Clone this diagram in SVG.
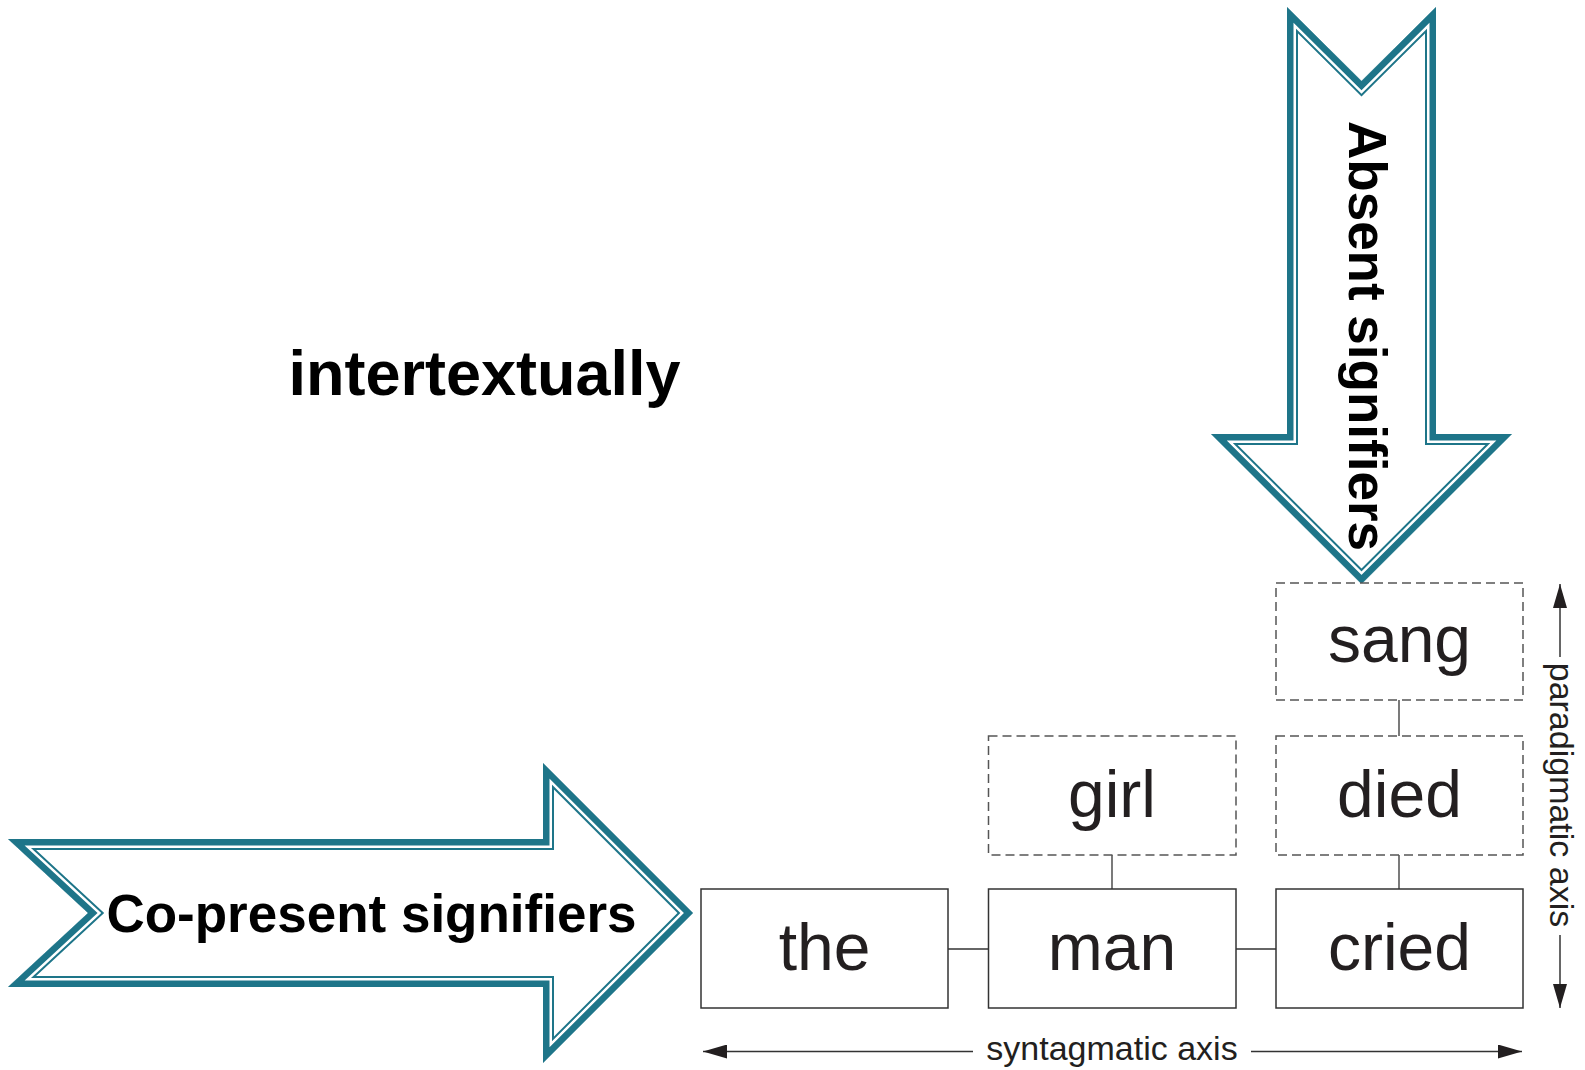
<svg xmlns="http://www.w3.org/2000/svg" width="1585" height="1070" viewBox="0 0 1585 1070">
<style>
.big{font-family:"Liberation Sans",Arial,sans-serif;font-weight:bold;fill:#000;text-anchor:middle}
.word{font-family:"Liberation Sans",Arial,sans-serif;font-size:66px;fill:#231f20;text-anchor:middle}
.axis{font-family:"Liberation Sans",Arial,sans-serif;font-size:34px;fill:#231f20;text-anchor:middle}
.solid{fill:#fff;stroke:#333;stroke-width:1.5}
.dashed{fill:#fff;stroke:#555;stroke-width:1.5;stroke-dasharray:9 5}
.conn{stroke:#333;stroke-width:1.3;fill:none}
.axl{stroke:#333;stroke-width:1.5;fill:none}
.t1{fill:#fff;stroke:#1e7589;stroke-width:22;stroke-linejoin:miter;stroke-miterlimit:10}
.t2{fill:none;stroke:#fff;stroke-width:18;stroke-linejoin:miter;stroke-miterlimit:10}
.t3{fill:none;stroke:#1e7589;stroke-width:13;stroke-linejoin:miter;stroke-miterlimit:10}
</style>
<defs>
<polygon id="arrowR" points="8,839 543,839 543,763 693,913 543,1063 543,987 8,987 88,913"/>
<polygon id="arrowD" points="1287,7 1361.5,81 1436,7 1436,434 1512,434 1361.5,584 1211,434 1287,434"/>
<clipPath id="clipR"><use href="#arrowR"/></clipPath>
<clipPath id="clipD"><use href="#arrowD"/></clipPath>
<marker id="ah" viewBox="0 0 24 14" refX="24" refY="7" markerWidth="24" markerHeight="14" markerUnits="userSpaceOnUse" orient="auto-start-reverse">
<path d="M0,0 L24,7 L0,14 Z" fill="#231f20"/>
</marker>
</defs>

<g id="node-copresent">
<g clip-path="url(#clipR)">
<use href="#arrowR" class="t1"/>
<use href="#arrowR" class="t2"/>
<use href="#arrowR" class="t3"/>
</g>
<text class="big" x="371.5" y="932" font-size="53">Co-present signifiers</text>
</g>

<g id="node-absent">
<g clip-path="url(#clipD)">
<use href="#arrowD" class="t1"/>
<use href="#arrowD" class="t2"/>
<use href="#arrowD" class="t3"/>
</g>
<text class="big" x="1349" y="336" font-size="53" transform="rotate(90 1349 336)">Absent signifiers</text>
</g>

<g id="node-intertextually">
<text class="big" x="484.5" y="395" font-size="63">intertextually</text>
</g>

<g id="connectors">
<line class="conn" x1="948" y1="949" x2="988.5" y2="949"/>
<line class="conn" x1="1236" y1="949" x2="1276" y2="949"/>
<line class="conn" x1="1112" y1="855" x2="1112" y2="889"/>
<line class="conn" x1="1399" y1="855" x2="1399" y2="889"/>
<line class="conn" x1="1399" y1="700" x2="1399" y2="736"/>
</g>

<g id="node-the"><rect class="solid" x="701" y="889" width="247" height="119"/><text class="word" x="824.5" y="970">the</text></g>
<g id="node-man"><rect class="solid" x="988.5" y="889" width="247.5" height="119"/><text class="word" x="1112" y="970">man</text></g>
<g id="node-cried"><rect class="solid" x="1276" y="889" width="247" height="119"/><text class="word" x="1399.5" y="970">cried</text></g>
<g id="node-girl"><rect class="dashed" x="988.5" y="736" width="247.5" height="119"/><text class="word" x="1112" y="817">girl</text></g>
<g id="node-died"><rect class="dashed" x="1276" y="736" width="247" height="119"/><text class="word" x="1399.5" y="817">died</text></g>
<g id="node-sang"><rect class="dashed" x="1276" y="583" width="247" height="117"/><text class="word" x="1399.5" y="662">sang</text></g>

<g id="axis-syntagmatic">
<line class="axl" x1="973" y1="1051.5" x2="703" y2="1051.5" marker-end="url(#ah)"/>
<line class="axl" x1="1251" y1="1051.5" x2="1522" y2="1051.5" marker-end="url(#ah)"/>
<text class="axis" x="1112" y="1060">syntagmatic axis</text>
</g>

<g id="axis-paradigmatic">
<line class="axl" x1="1560" y1="657" x2="1560" y2="584" marker-end="url(#ah)"/>
<line class="axl" x1="1560" y1="935" x2="1560" y2="1008" marker-end="url(#ah)"/>
<text class="axis" x="1550" y="795" transform="rotate(90 1550 795)">paradigmatic axis</text>
</g>
</svg>
